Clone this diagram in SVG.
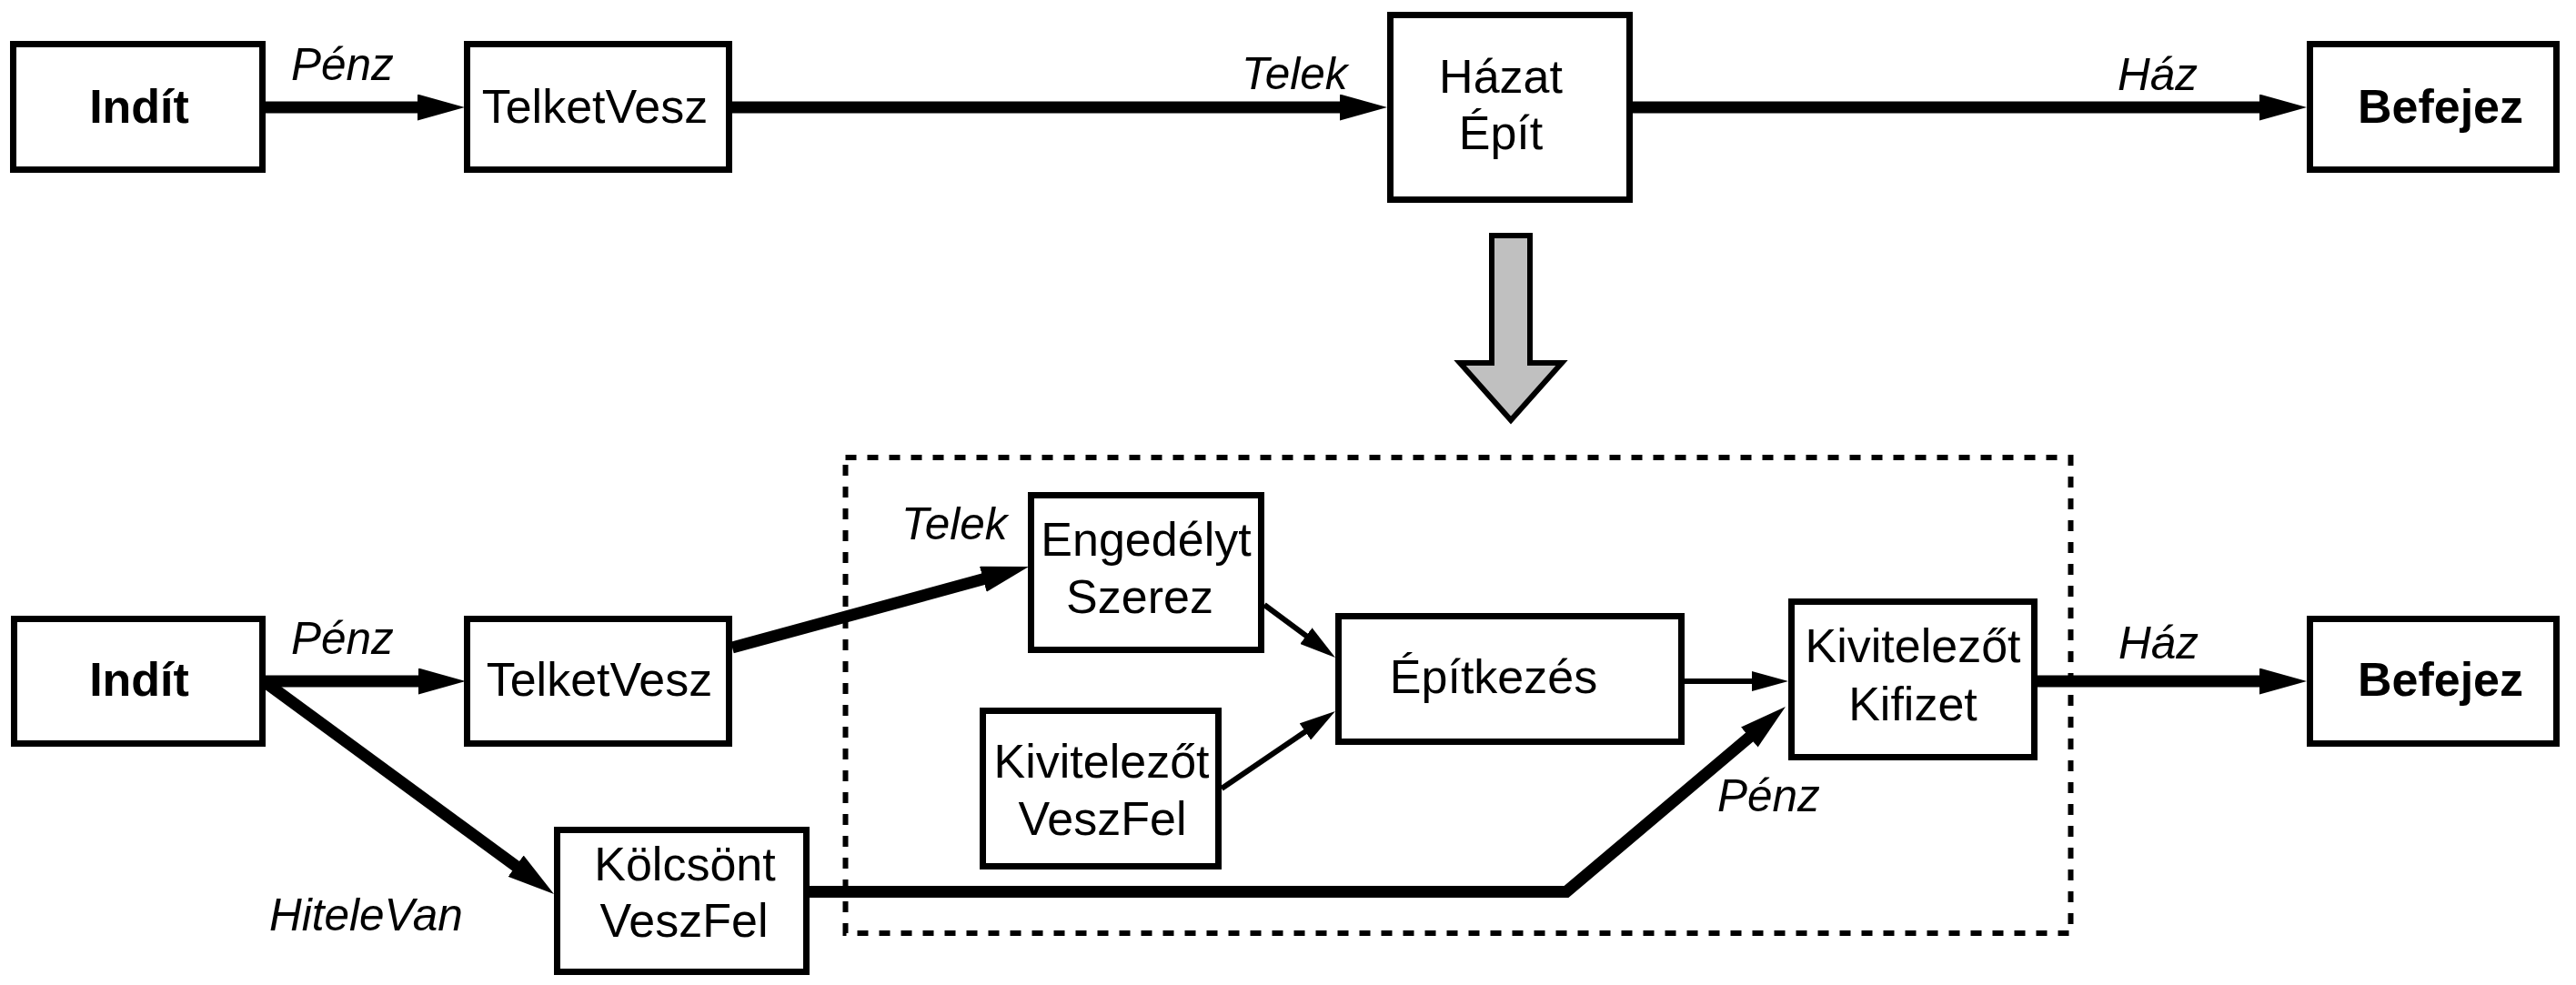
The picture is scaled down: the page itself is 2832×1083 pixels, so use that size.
<svg xmlns="http://www.w3.org/2000/svg" width="2832" height="1083" viewBox="0 0 2832 1083">
  <style>
    .box { fill: #ffffff; stroke: #000000; stroke-width: 7; }
    .lbl { font-family: "Liberation Sans", Arial, Helvetica, sans-serif; font-size: 52px; fill: #000000; text-anchor: middle; }
    .bold { font-weight: bold; }
    .flow { font-family: "Liberation Sans", Arial, Helvetica, sans-serif; font-size: 49.5px; font-style: italic; fill: #000000; }
    .thick { fill: none; stroke: #000000; stroke-width: 13; stroke-linejoin: miter; marker-end: url(#headThick); }
    .thin { fill: none; stroke: #000000; stroke-width: 6; marker-end: url(#headThin); }
    .group-frame { fill: none; stroke: #000000; stroke-width: 6; stroke-dasharray: 12 12; }
    .refine { fill: #c0c0c0; stroke: #000000; stroke-width: 6; stroke-linejoin: miter; }
  </style>
  <defs>
    <marker id="headThick" markerUnits="userSpaceOnUse" markerWidth="53" markerHeight="29" refX="1" refY="14.5" orient="auto">
      <path d="M0,0 L52,14.5 L0,29 z" fill="#000000"/>
    </marker>
    <marker id="headThin" markerUnits="userSpaceOnUse" markerWidth="41" markerHeight="22" refX="1" refY="11" orient="auto">
      <path d="M0,0 L40,11 L0,22 z" fill="#000000"/>
    </marker>
  </defs>

  <rect width="2832" height="1083" fill="#ffffff"/>

  <!-- upper process: top level -->
  <g id="top-indit">
    <rect class="box" x="14.5" y="48.5" width="274" height="138"/>
    <text class="lbl bold" x="153" y="135">Indít</text>
  </g>
  <g id="top-telketvesz">
    <rect class="box" x="513.5" y="48.5" width="288" height="138"/>
    <text class="lbl" x="654" y="135">TelketVesz</text>
  </g>
  <g id="top-hazatepit">
    <rect class="box" x="1528.5" y="16.5" width="263" height="203"/>
    <text class="lbl" x="1650" y="102">Házat</text>
    <text class="lbl" x="1650" y="164">Épít</text>
  </g>
  <g id="top-befejez">
    <rect class="box" x="2539.5" y="48.5" width="271" height="138"/>
    <text class="lbl bold" x="2683" y="135">Befejez</text>
  </g>

  <!-- refinement arrow -->
  <g id="refinement">
    <polygon class="refine" points="1640,259 1682,259 1682,399 1717,399 1661,462 1605,399 1640,399"/>
  </g>

  <!-- dashed frame around the refined sub-process -->
  <g id="subprocess-frame">
    <rect class="group-frame" x="929.5" y="503" width="1347" height="523"/>
  </g>

  <!-- lower process: refined level -->
  <g id="indit">
    <rect class="box" x="15.5" y="680.5" width="273" height="137"/>
    <text class="lbl bold" x="153" y="765">Indít</text>
  </g>
  <g id="telketvesz">
    <rect class="box" x="513.5" y="680.5" width="288" height="137"/>
    <text class="lbl" x="659" y="765">TelketVesz</text>
  </g>
  <g id="kolcsont-veszfel">
    <rect class="box" x="612.5" y="912.5" width="274" height="156"/>
    <text class="lbl" x="753" y="968">Kölcsönt</text>
    <text class="lbl" x="752" y="1030">VeszFel</text>
  </g>
  <g id="engedelyt-szerez">
    <rect class="box" x="1133.5" y="544.5" width="253" height="170"/>
    <text class="lbl" x="1260" y="611">Engedélyt</text>
    <text class="lbl" x="1253" y="674">Szerez</text>
  </g>
  <g id="kivitelezot-veszfel">
    <rect class="box" x="1080.5" y="781.5" width="259" height="171"/>
    <text class="lbl" x="1211" y="855">Kivitelezőt</text>
    <text class="lbl" x="1212" y="918">VeszFel</text>
  </g>
  <g id="epitkezes">
    <rect class="box" x="1471.5" y="677.5" width="377" height="138"/>
    <text class="lbl" x="1642" y="762">Építkezés</text>
  </g>
  <g id="kivitelezot-kifizet">
    <rect class="box" x="1969.5" y="661.5" width="267" height="171"/>
    <text class="lbl" x="2103" y="728">Kivitelezőt</text>
    <text class="lbl" x="2103" y="792">Kifizet</text>
  </g>
  <g id="befejez">
    <rect class="box" x="2539.5" y="680.5" width="271" height="137"/>
    <text class="lbl bold" x="2683" y="765">Befejez</text>
  </g>

  <!-- connectors -->
  <g id="connectors">
    <path class="thick" d="M292,118 L460,118"/>
    <path class="thick" d="M802,118 L1474,118"/>
    <path class="thick" d="M1795,118 L2485,118"/>

    <path class="thick" d="M292,749 L461,749"/>
    <path class="thick" d="M290,749 L567.9,952.8"/>
    <path class="thick" d="M805,712 L1081.8,636.5"/>
    <path class="thin" d="M1390,665 L1436.7,699.7"/>
    <path class="thin" d="M1343,867 L1435.7,803.9"/>
    <path class="thin" d="M1852,749 L1927,749"/>
    <path class="thick" d="M890,980.5 L1722,980.5 L1924,809.9"/>
    <path class="thick" d="M2240,749 L2485,749"/>
  </g>

  <!-- flow labels -->
  <g id="flow-labels">
    <text class="flow" x="320" y="88">Pénz</text>
    <text class="flow" x="1365" y="98">Telek</text>
    <text class="flow" x="2328" y="99">Ház</text>
    <text class="flow" x="320" y="719">Pénz</text>
    <text class="flow" x="296" y="1023">HiteleVan</text>
    <text class="flow" x="991" y="593">Telek</text>
    <text class="flow" x="1888" y="892">Pénz</text>
    <text class="flow" x="2329" y="724">Ház</text>
  </g>
</svg>
